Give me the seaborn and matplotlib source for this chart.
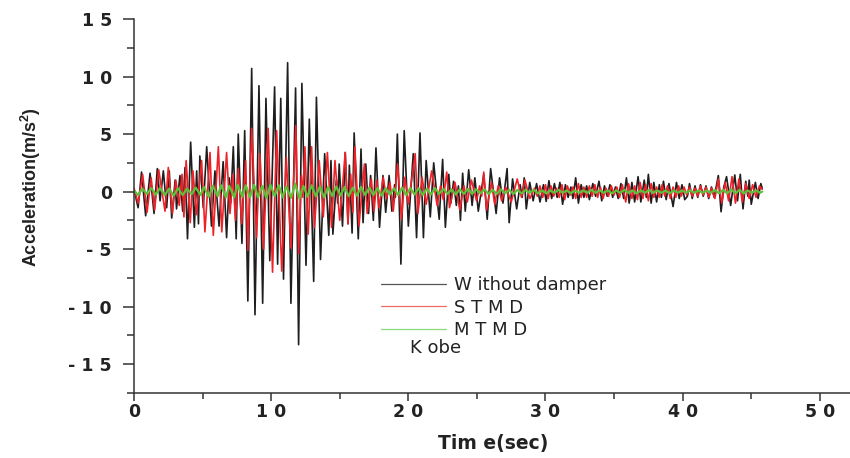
import matplotlib
matplotlib.use("Agg")
import matplotlib.pyplot as plt
from matplotlib.lines import Line2D
from matplotlib.ticker import MultipleLocator
import seaborn as sns
import pandas as pd

# ---------------- data ----------------
series_names = ["W ithout damper", "S T M D", "M T M D"]
record_name = "K obe"

time_black = [0.0, 0.3, 0.55, 0.85, 1.17, 1.46, 1.7, 1.9, 2.14, 2.38, 2.57, 2.75, 3.0, 3.1, 3.35, 3.55,
              3.72, 3.9, 4.13, 4.4, 4.57, 4.7, 4.8, 5.05, 5.3, 5.65, 5.9, 6.2, 6.5, 6.75, 6.95, 7.05,
              7.24, 7.45, 7.6, 7.87, 8.07, 8.3, 8.58, 8.82, 9.11, 9.38, 9.62, 9.9, 10.25, 10.47, 10.7,
              10.9, 11.2, 11.44, 11.78, 12.0, 12.24, 12.54, 12.78, 13.1, 13.3, 13.6, 13.9, 14.2, 14.36,
              14.5, 14.75, 14.85, 14.96, 15.2, 15.4, 15.6, 15.7, 15.9, 16.05, 16.35, 16.55, 16.7, 16.9,
              17.1, 17.25, 17.45, 17.64, 17.9, 18.15, 18.35, 18.6, 18.8, 19.0, 19.05, 19.2, 19.46, 19.7,
              20.0, 20.36, 20.6, 20.85, 21.1, 21.3, 21.6, 21.85, 22.25, 22.5, 22.7, 22.95, 23.1, 23.3,
              23.5, 23.65, 23.8, 23.96, 24.15, 24.4, 24.65, 24.85, 25.1, 25.5, 25.75, 26.0, 26.4, 26.65,
              26.9, 27.2, 27.35, 27.6, 27.9, 28.15, 28.3, 28.45, 28.6, 28.85, 29.1, 29.35, 29.6, 29.85,
              30.05, 30.25, 30.45, 30.65, 30.85, 31.05, 31.25, 31.45, 31.65, 31.85, 32.0, 32.2, 32.4,
              32.6, 32.8, 33.0, 33.2, 33.45, 33.65, 33.9, 34.1, 34.3, 34.5, 34.7, 34.9, 35.1, 35.3, 35.5,
              35.7, 35.9, 36.1, 36.3, 36.5, 36.75, 36.95, 37.2, 37.35, 37.5, 37.7, 37.9, 38.1, 38.3, 38.45,
              38.6, 38.8, 39.0, 39.3, 39.55, 39.75, 39.95, 40.15, 40.35, 40.5, 40.7, 40.9, 41.1, 41.3,
              41.5, 41.7, 41.9, 42.1, 42.3, 42.6, 42.8, 43.0, 43.2, 43.5, 43.8, 44.0, 44.2, 44.4, 44.6,
              44.75, 44.85, 45.0, 45.3, 45.5, 45.7, 45.8]
acc_black = [0.2, -1.4, 1.7, -2.1, 1.6, -1.9, 2.0, -0.8, 1.8, -1.4, 1.8, -2.3, 1.0, -1.5, 1.4, -1.7,
             2.1, -4.1, 4.3, -3.1, 1.8, -2.8, 3.1, -1.4, 3.9, -3.0, 1.8, -3.0, 2.6, -4.0, 1.2, -1.0,
             3.9, -4.1, 5.0, -4.5, 5.3, -9.5, 10.7, -10.7, 9.2, -9.7, 8.1, -6.0, 9.1, -6.3, 8.1,
             -7.6, 11.2, -9.7, 9.0, -13.3, 9.4, -6.4, 6.3, -7.8, 8.2, -5.9, 3.3, -3.8, 2.7,
             -3.7, 1.0, -1.0, 2.4, -3.0, 3.4, -2.8, 2.3, -3.6, 5.1, -4.1, 3.7, -2.7, 2.4,
             -1.9, 1.4, -2.5, 3.8, -3.1, 1.4, -1.8, 1.4, -1.7, 0.6, -0.5, 5.0, -6.3, 5.3,
             -3.0, 3.3, -4.0, 5.1, -4.0, 2.7, -2.2, 2.5, -2.4, 2.8, -3.1, 1.5, -1.0, 0.9,
             -1.2, 0.5, -2.5, 1.6, -1.7, 1.9, -1.2, 1.2, -1.7, 1.5, -2.4, 2.0, -1.9, 1.2,
             -1.0, 2.0, -2.7, 1.1, -1.5, 0.6, -0.5, 1.2, -1.5, 0.8, -0.8, 0.7, -0.9, 0.6,
             -0.85, 0.95, -0.6, 0.7, -0.5, 0.8, -1.1, 0.6, -0.5, 0.4, -0.6, 1.2, -1.0,
             0.6, -0.5, 0.5, -0.7, 0.7, -0.4, 0.9, -0.8, 0.5, -0.4, 0.6, -0.5, 0.4, -0.6, 0.7,
             -0.6, 1.2, -1.0, 0.8, -0.9, 1.3, -0.9, 1.0, -0.5, 1.5, -1.0, 0.8, -0.9, 0.6, -0.5,
             0.9, -0.7, 0.7, -1.3, 0.8, -0.6, 0.6, -0.7, -0.4, 0.7, -0.6, 0.5, -0.5, 0.6,
             -0.4, 0.5, -0.6, 0.4, -0.5, 1.4, -1.75, 0.4, 1.3, -1.2, 1.45, -0.8, 1.5, -1.5, 0.9,
             -0.4, 1.0, -1.1, 0.8, -0.6, 0.7, 0.3]

time_stmd = [0.0, 0.3, 0.63, 0.95, 1.25, 1.5, 1.8, 2.26, 2.5, 2.8, 3.05, 3.3, 3.5, 3.64, 3.8, 4.1,
             4.3, 4.55, 4.93, 5.17, 5.54, 5.78, 6.15, 6.4, 6.75, 7.0, 7.2, 7.4, 7.6, 7.85, 8.14, 8.3,
             8.58, 8.93, 9.18, 9.45, 9.78, 10.1, 10.4, 10.77, 11.1, 11.44, 11.8, 12.0, 12.2, 12.3,
             12.46, 12.7, 12.95, 13.15, 13.5, 13.8, 14.1, 14.4, 14.65, 15.0, 15.4, 15.6, 15.8, 15.95,
             16.1, 16.4, 16.8, 17.0, 17.3, 17.5, 17.7, 17.86, 18.17, 18.4, 18.66, 18.9, 19.22, 19.5,
             19.75, 20.0, 20.5, 20.7, 21.0, 21.3, 21.7, 22.1, 22.35, 22.55, 22.8, 23.0, 23.4, 23.76,
             24.05, 24.3, 24.6, 24.97, 25.2, 25.35, 25.5, 25.7, 26.06, 26.3, 26.55, 26.8, 27.1, 27.5,
             27.94, 28.25, 28.5, 28.86, 29.2, 29.4, 29.6, 29.8, 30.0, 30.2, 30.4, 30.6, 30.8, 31.0,
             31.2, 31.4, 31.6, 31.8, 32.0, 32.2, 32.4, 32.6, 32.8, 33.0, 33.2, 33.4, 33.6, 33.8, 34.0,
             34.2, 34.4, 34.6, 34.8, 35.0, 35.2, 35.4, 35.6, 35.85, 36.05, 36.3, 36.5, 36.7, 36.9,
             37.1, 37.3, 37.5, 37.7, 37.9, 38.1, 38.3, 38.5, 38.7, 38.9, 39.1, 39.3, 39.5, 39.7, 39.9,
             40.1, 40.3, 40.5, 40.7, 40.9, 41.1, 41.3, 41.5, 41.7, 41.9, 42.1, 42.35, 42.6, 42.85,
             43.1, 43.35, 43.6, 43.85, 44.1, 44.35, 44.6, 44.85, 45.1, 45.35, 45.6, 45.8]
acc_stmd = [0.3, -1.0, 1.5, -1.8, 1.2, -1.6, 1.9, -1.7, 2.1, -1.9, 1.0, -1.2, 1.5, -2.2, 2.7, -2.7,
            1.8, -2.0, 2.7, -3.5, 3.4, -3.8, 3.9, -3.5, 3.4, -1.9, 1.5, -2.5, 2.0, -2.8, 2.7, -5.1,
            5.5, -4.0, 3.3, -5.0, 5.5, -7.0, 5.3, -6.9, 3.0, -4.9, 5.75, -5.4, 1.4, -0.5,
            3.9, -3.7, 3.9, -3.1, 2.7, -2.2, 3.4, -3.1, 2.7, -2.5, 3.4, -2.8, 1.5, -1.8,
            3.9, -3.0, 2.4, -1.9, 1.1, -1.7, 1.0, -1.4, 1.25, -0.6, 0.8, -1.7, 2.4, -2.4,
            1.25, -1.1, 3.3, -1.9, 1.25, -1.1, 1.8, -1.2, 0.5, -0.7, 1.7, -1.4, 0.8, -1.6,
            0.5, -0.9, 1.0, -0.8, 0.5, -0.4, 1.7, -1.6, 0.8, -1.1, 0.5, -0.8, 0.4, -0.9,
            1.1, -0.5, 1.0, -0.6, 0.3, -0.4, 0.5, -0.5, 0.6, -0.6, 0.5, -0.4, 0.3, -0.5,
            0.6, -0.7, 0.5, -0.3, 0.4, -0.6, 0.7, -0.5, 0.4, -0.5, 0.5, -0.4, 0.6, -0.5, 0.4,
            -0.6, 0.3, -0.4, 0.5, -0.3, 0.4, -0.5, 0.6, -0.9, 0.7, -0.6, 0.5, -0.7, 0.8,
            -0.6, 0.6, -0.8, 0.7, -0.5, 0.4, -0.5, 0.6, -0.4, 0.5, -0.6, 0.4, -0.5, 0.5, -0.4,
            0.4, -0.3, 0.4, -0.4, 0.3, -0.4, 0.5, -0.3, 0.4, -0.5, 0.3, -0.6, 1.1, -1.0,
            0.8, -0.8, 1.3, -1.0, 1.1, -0.9, 0.7, -0.6, 0.6, -0.5, 0.5, 0.2]

time_mtmd = [0.0, 0.3, 0.6, 0.95, 1.25, 1.6, 1.9, 2.25, 2.55, 2.9, 3.2, 3.55, 3.85, 4.2, 4.5, 4.85,
             5.1, 5.45, 5.75, 6.1, 6.35, 6.7, 6.95, 7.3, 7.55, 7.9, 8.15, 8.45, 8.75, 9.05, 9.35, 9.65,
             9.95, 10.25, 10.55, 10.85, 11.1, 11.45, 11.75, 12.05, 12.35, 12.65, 12.95, 13.25, 13.55,
             13.85, 14.15, 14.45, 14.75, 15.05, 15.35, 15.65, 15.95, 16.25, 16.55, 16.85, 17.15, 17.45,
             17.75, 18.05, 18.35, 18.65, 18.95, 19.25, 19.55, 19.85, 20.15, 20.45, 20.75, 21.05, 21.35,
             21.65, 21.95, 22.25, 22.55, 22.85, 23.15, 23.45, 23.75, 24.05, 24.35, 24.65, 24.95, 25.25,
             25.55, 25.85, 26.15, 26.45, 26.75, 27.05, 27.35, 27.65, 27.95, 28.25, 28.55, 28.85, 29.15,
             29.45, 29.75, 30.05, 30.35, 30.65, 30.95, 31.25, 31.55, 31.85, 32.15, 32.45, 32.75, 33.05,
             33.35, 33.65, 33.95, 34.25, 34.55, 34.85, 35.15, 35.45, 35.75, 36.05, 36.35, 36.65, 36.95,
             37.25, 37.55, 37.85, 38.15, 38.45, 38.75, 39.05, 39.35, 39.65, 39.95, 40.25, 40.55, 40.85,
             41.15, 41.45, 41.75, 42.05, 42.35, 42.65, 42.95, 43.25, 43.55, 43.85, 44.15, 44.45, 44.75,
             45.05, 45.35, 45.65, 45.8]
acc_mtmd = [0.1, -0.3, 0.25, -0.2, 0.3, -0.25, 0.3, -0.3, 0.25, -0.35, 0.3, -0.3, 0.25, -0.2, 0.35, -0.3,
            0.4, -0.45, 0.5, -0.4, 0.55, -0.5, 0.5, -0.5, 0.6, -0.45, 0.55, -0.5, 0.6, -0.5, 0.5, -0.55,
            0.6, -0.4, 0.55, -0.5, 0.45, -0.55, 0.7, -0.6, 0.5, -0.45, 0.55, -0.4, 0.45,
            -0.5, 0.4, -0.4, 0.45, -0.35, 0.4, -0.4, 0.35, -0.35, 0.4, -0.3, 0.35, -0.3,
            0.3, -0.35, 0.3, -0.25, 0.3, -0.3, 0.35, -0.3, 0.3, -0.25, 0.3, -0.3, 0.25,
            -0.25, 0.3, -0.2, 0.25, -0.2, 0.2, -0.25, 0.2, -0.2, 0.25, -0.2, 0.2, -0.15,
            0.2, -0.2, 0.15, -0.2, 0.2, -0.15, 0.15, -0.2, 0.15, -0.15, 0.15, -0.1, 0.15,
            -0.15, 0.1, -0.15, 0.1, -0.1, 0.15, -0.1, 0.1, -0.15, 0.1, -0.1, 0.1, -0.1,
            0.15, -0.1, 0.1, -0.1, 0.1, -0.15, 0.1, -0.1, 0.15, -0.1, 0.1, -0.15, 0.1,
            -0.1, 0.15, -0.1, 0.1, -0.1, 0.1, -0.15, 0.1, -0.1, 0.1, -0.1, 0.1, -0.1,
            0.1, -0.1, 0.1, -0.1, 0.15, -0.15, 0.15, -0.15, 0.2, -0.15, 0.15, -0.15, 0.1,
            -0.1, 0.1, -0.1, 0.0]

x_ticks = [0, 10, 20, 30, 40, 50]
x_tick_labels = ["0", "1 0", "2 0", "3 0", "4 0", "5 0"]
y_ticks = [-15, -10, -5, 0, 5, 10, 15]
y_tick_labels = ["- 1 5", "- 1 0", "- 5", "0", "5", "1 0", "1 5"]
x_label = "Tim e(sec)"
y_label = r"Acceleration(m/s$^{\mathbf{2}}$)"

# ---------------- styling ----------------
sns.set_style("ticks")
plt.rcParams["font.family"] = ["Liberation Sans", "DejaVu Sans"]
plt.rcParams["mathtext.fontset"] = "custom"
plt.rcParams["mathtext.bf"] = "Liberation Sans:bold"
plt.rcParams["mathtext.rm"] = "Liberation Sans"

col_black = "#1e1e1e"
col_red = "#ee2229"
col_green = "#5fbf3a"
axis_col = "#333333"

fig = plt.figure(figsize=(8.5, 4.58), dpi=100)
ax = fig.add_axes([134 / 850, 65 / 458, 1 - 134 / 850, 374 / 458])

frames = []
for name, t, a in [(series_names[0], time_black, acc_black),
                   (series_names[1], time_stmd, acc_stmd),
                   (series_names[2], time_mtmd, acc_mtmd)]:
    frames.append(pd.DataFrame({"time": t, "acc": a, "series": name}))
df = pd.concat(frames, ignore_index=True)

styles = {series_names[0]: (col_black, 1.2),
          series_names[1]: (col_red, 1.2),
          series_names[2]: (col_green, 1.6)}
for name in series_names:
    sub = df[df["series"] == name]
    c, lw = styles[name]
    sns.lineplot(data=sub, x="time", y="acc", color=c, linewidth=lw, ax=ax,
                 estimator=None, sort=False, legend=False)

ax.set_xlim(0, 52.2)
ax.set_ylim(-17.5, 15)
ax.set_xticks(x_ticks)
ax.set_xticklabels(x_tick_labels)
ax.set_yticks(y_ticks)
ax.set_yticklabels(y_tick_labels)
ax.xaxis.set_minor_locator(MultipleLocator(5))
ax.yaxis.set_minor_locator(MultipleLocator(2.5))

for s in ["top", "right"]:
    ax.spines[s].set_visible(False)
for s in ["left", "bottom"]:
    ax.spines[s].set_color(axis_col)
    ax.spines[s].set_linewidth(1.1)

ax.tick_params(which="major", direction="out", length=8, width=1.1, color=axis_col)
ax.tick_params(which="minor", direction="out", length=5, width=1.1, color=axis_col)
ax.tick_params(axis="x", which="major", length=6, pad=1)
ax.tick_params(axis="x", which="minor", length=4)
ax.tick_params(axis="y", which="major", pad=8)
for lab in ax.get_xticklabels() + ax.get_yticklabels():
    lab.set_fontweight("bold")
    lab.set_fontsize(12.5)
    lab.set_color("#222222")
    lab.set_family(["DejaVu Sans"])

ax.set_xlabel(x_label, fontsize=13.5, fontweight="bold", color="#222222", family=["DejaVu Sans"])
ax.set_ylabel(y_label, fontsize=13, fontweight="bold", color="#222222")
ax.xaxis.set_label_coords((493 - 134) / (850 - 134), -0.11)
ax.yaxis.set_label_coords(-0.127, 0.55)

handles = [Line2D([], [], color="#555555", lw=0.9),
           Line2D([], [], color="#f06a6a", lw=0.9),
           Line2D([], [], color="#8ad878", lw=0.9)]
leg = ax.legend(handles, series_names, loc="upper left",
                bbox_to_anchor=(372 / 850, 1 - 267 / 458), bbox_transform=fig.transFigure,
                frameon=False, borderpad=0, handlelength=3.6, handletextpad=0.45,
                labelspacing=0.25, prop={"family": ["DejaVu Sans"], "size": 13})
for txt in leg.get_texts():
    txt.set_color("#222222")
fig.text(410 / 850, 1 - 348 / 458, record_name, va="center", ha="left",
         fontsize=13, family=["DejaVu Sans"], color="#222222")

fig.savefig("out.png", dpi=100)
